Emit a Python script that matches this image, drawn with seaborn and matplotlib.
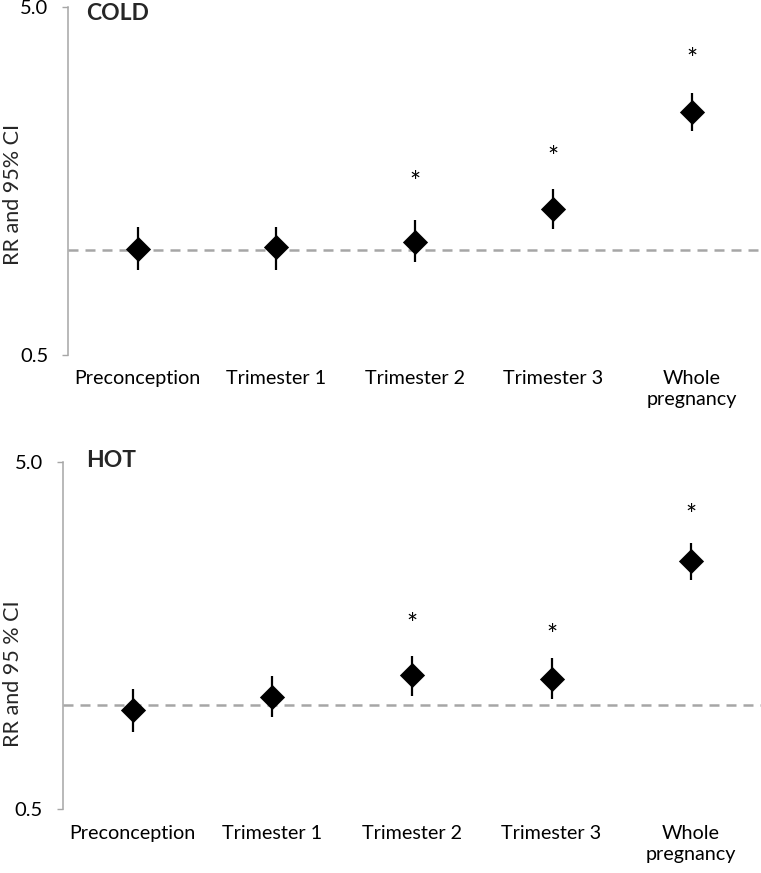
import matplotlib
matplotlib.use("Agg")
import matplotlib.pyplot as plt
import seaborn as sns
import pandas as pd

# ---- data ----
periods = ["Preconception", "Trimester 1", "Trimester 2", "Trimester 3", "Whole\npregnancy"]

cold_rr = [1.01, 1.02, 1.06, 1.315, 2.50]
cold_lo = [0.88, 0.88, 0.925, 1.15, 2.20]
cold_hi = [1.165, 1.165, 1.22, 1.50, 2.83]
cold_star = [None, None, 1.64, 1.93, 3.70]

hot_rr = [0.966, 1.054, 1.219, 1.185, 2.59]
hot_lo = [0.833, 0.924, 1.057, 1.038, 2.28]
hot_hi = [1.109, 1.211, 1.382, 1.359, 2.92]
hot_star = [None, None, 1.78, 1.65, 3.66]

y_ticks = [0.5, 5.0]
y_ticklabels = ["0.5", "5.0"]
reference_rr = 1.0

panels = [
    ("COLD", "RR and 95% CI", cold_rr, cold_lo, cold_hi, cold_star),
    ("HOT", "RR and 95 % CI", hot_rr, hot_lo, hot_hi, hot_star),
]

sns.set_theme(style="white")
plt.rcParams["font.family"] = ["Lato", "DejaVu Sans"]

W, H = 761, 873
fig = plt.figure(figsize=(W / 100, H / 100), dpi=100)

axes_px = [
    (68.3, 7.3, 355.0),   # left, top, bottom in px
    (62.8, 461.7, 809.3),
]
title_y_px = [13.3, 460.5]
ylabel_center_px = [194, 674]

axis_gray = "#A6A6A6"

for i, (title, ylab, rr, lo, hi, star) in enumerate(panels):
    left, top, bottom = axes_px[i]
    ax = fig.add_axes([left / W, 1 - bottom / H, (W - left) / W, (bottom - top) / H])
    df = pd.DataFrame({"period": periods, "rr": rr, "lo": lo, "hi": hi})

    ax.axhline(reference_rr, color=axis_gray, lw=1.8, dashes=(4.0, 2.8), zorder=1)
    ax.vlines(df["period"], df["lo"], df["hi"], color="black", lw=1.6, zorder=2)
    sns.scatterplot(data=df, x="period", y="rr", marker="D", s=165, color="black",
                    edgecolor="black", linewidth=0, ax=ax, zorder=3)
    for p, s in zip(periods, star):
        if s is not None:
            ax.annotate("*", (p, s), xytext=(0, -5.5), textcoords="offset points",
                        ha="center", va="center", fontsize=19, color="black")

    ax.set_yscale("log")
    ax.set_ylim(0.5, 5.0)
    ax.set_xlim(-0.5, len(periods) - 0.5)
    ax.yaxis.set_major_locator(matplotlib.ticker.FixedLocator(y_ticks))
    ax.yaxis.set_minor_locator(matplotlib.ticker.NullLocator())
    ax.set_yticklabels(y_ticklabels)
    ax.set_xlabel("")
    ax.set_ylabel("")

    for sp in ["top", "right", "bottom"]:
        ax.spines[sp].set_visible(False)
    ax.spines["left"].set_color(axis_gray)
    ax.spines["left"].set_linewidth(1.1)
    ax.tick_params(axis="y", direction="out", length=4.5, width=1.0, color=axis_gray,
                   labelsize=14.5, labelcolor="black", pad=10, left=True)
    ax.tick_params(axis="x", length=0, labelsize=14.2, labelcolor="black", pad=11)
    for lbl in ax.get_xticklabels():
        lbl.set_ha("center")
        lbl.set_multialignment("center")
        lbl.set_linespacing(1.3)

    fig.text(86 / W, 1 - title_y_px[i] / H, title,
             fontsize=16.5, fontweight="bold", ha="left", va="center")

    fig.text(13 / W, 1 - ylabel_center_px[i] / H, ylab, rotation=90,
             ha="center", va="center", fontsize=15.5)

fig.savefig("out.png", dpi=100)
